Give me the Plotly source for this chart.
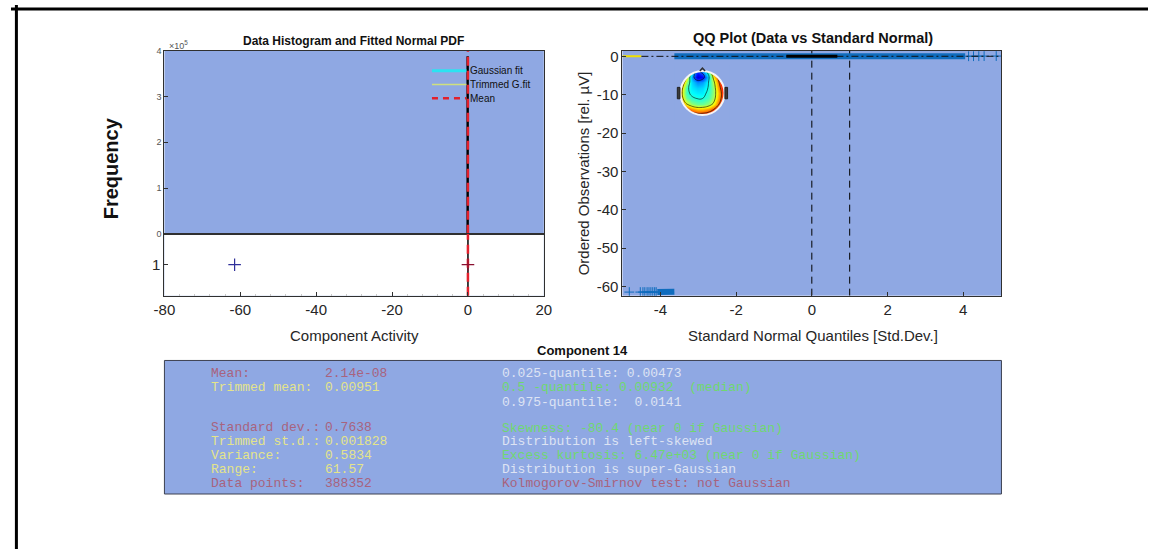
import plotly.graph_objects as go
import math

W, H = 1156, 554
def px(x): return x / W
def py(y): return 1 - y / H

# ---------------- data ----------------
hist_x = [0.0]
hist_counts = [388000]
stat_mean = 2.14e-08
stat_median = 0.00932
box_row = [1]
outlier_x = [-61.5]
hist_xticks = [-80, -60, -40, -20, 0, 20]
hist_yticks = [0, 1e5, 2e5, 3e5, 4e5]
hist_yticklabels = ["0", "1", "2", "3", "4"]

qq_band_x = [-3.63, 4.05]
qq_band_y = [0.0047, 0.0141]
qq_low_sparse_x = [-4.82, -4.53, -4.46, -4.41, -4.35, -4.30, -4.25, -4.20, -4.15, -4.11]
qq_low_sparse_y = [-61.5, -61.5, -61.5, -61.5, -61.5, -61.5, -61.5, -61.5, -61.5, -61.5]
qq_low_dense_x = [-4.08, -3.63]
qq_low_dense_y = [-61.5, -61.4]
qq_high_x = [4.14, 4.27, 4.41, 4.55, 4.87]
qq_high_y = [0.03, 0.04, 0.05, 0.06, 0.07]
qq_ref_x = [-4.5, 5.0]
qq_ref_y = [0.0, 0.02]
qq_quart_x = [-0.674, 0.674]
qq_quart_y = [0.007, 0.012]
qq_yellow_x = [-5.0, -4.5]
qq_yellow_y = [0.0, 0.0]
qq_vlines = [0, 1]
qq_xticks = [-4, -2, 0, 2, 4]
qq_yticks = [0, -10, -20, -30, -40, -50, -60]

# scalp map values (jet scale 0..1), rows bottom -> top
topo_coords = [-1.0, -0.75, -0.5, -0.25, 0.0, 0.25, 0.5, 0.75, 1.0]
topo_z = [
    [0.90, 0.90, 0.88, 0.86, 0.86, 0.88, 0.90, 0.92, 0.95],
    [0.86, 0.82, 0.74, 0.68, 0.68, 0.72, 0.80, 0.88, 0.93],
    [0.80, 0.62, 0.52, 0.48, 0.48, 0.52, 0.62, 0.80, 0.92],
    [0.72, 0.48, 0.42, 0.40, 0.40, 0.44, 0.54, 0.74, 0.90],
    [0.68, 0.44, 0.38, 0.36, 0.36, 0.42, 0.52, 0.72, 0.90],
    [0.72, 0.44, 0.36, 0.33, 0.34, 0.40, 0.52, 0.76, 0.92],
    [0.80, 0.54, 0.34, 0.26, 0.28, 0.38, 0.56, 0.80, 0.94],
    [0.86, 0.66, 0.30, 0.08, 0.12, 0.34, 0.64, 0.86, 0.95],
    [0.90, 0.76, 0.40, 0.18, 0.26, 0.46, 0.76, 0.92, 0.95],
]
matlab_jet = [[0.0, "rgb(0,0,128)"], [0.125, "rgb(0,0,255)"], [0.375, "rgb(0,255,255)"],
              [0.625, "rgb(255,255,0)"], [0.875, "rgb(255,0,0)"], [1.0, "rgb(128,0,0)"]]

# statistics text
left_labels = ["Mean:", "Trimmed mean:", "Standard dev.:", "Trimmed st.d.:", "Variance:", "Range:", "Data points:"]
left_values = ["2.14e-08", "0.00951", "0.7638", "0.001828", "0.5834", "61.57", "388352"]
left_rows = [375, 390, 430, 445, 459, 473, 487]
left_colors = ["#a8637e", "#e4e48a", "#a8637e", "#e4e48a", "#e4e48a", "#e4e48a", "#a8637e"]
right_lines = ["0.025-quantile: 0.00473",
               "0.5 -quantile: 0.00932  (median)",
               "0.975-quantile:  0.0141",
               "Skewness: -80.4 (near 0 if Gaussian)",
               "Distribution is left-skewed",
               "Excess kurtosis: 6.47e+03 (near 0 if Gaussian)",
               "Distribution is super-Gaussian",
               "Kolmogorov-Smirnov test: not Gaussian"]
right_rows = [375, 390, 405, 431, 445, 459, 473, 487]
right_colors = ["#dde3f3", "#6fd86f", "#dde3f3", "#6fd86f", "#dde3f3", "#6fd86f", "#dde3f3", "#a8637e"]

BG = "#8fa8e3"
AX = "#303030"
TXT = "#262626"
QQBLUE = "#0f6cbd"

fig = go.Figure()

# histogram
fig.add_trace(go.Bar(x=hist_x, y=hist_counts, width=0.5, marker=dict(color="black", line=dict(width=0)),
                     xaxis="x", yaxis="y", showlegend=False))
fig.add_trace(go.Scatter(x=[stat_mean, stat_mean], y=[0, 4e5], mode="lines",
                         line=dict(color="#e3202c", width=2.5, dash="9px,5px"),
                         xaxis="x", yaxis="y", showlegend=False))
# boxplot row
fig.add_trace(go.Scatter(x=[stat_median, stat_median], y=[0.5, 1.5], mode="lines",
                         line=dict(color="black", width=1.5), xaxis="x2", yaxis="y2", showlegend=False))
fig.add_trace(go.Scatter(x=[stat_mean, stat_mean], y=[0.5, 1.5], mode="lines",
                         line=dict(color="#e3202c", width=2.5, dash="9px,5px"),
                         xaxis="x2", yaxis="y2", showlegend=False))
fig.add_trace(go.Scatter(x=outlier_x, y=box_row, mode="markers",
                         marker=dict(symbol="cross-thin-open", size=9, color="#30309a", line=dict(width=1.2)),
                         xaxis="x2", yaxis="y2", showlegend=False))
fig.add_trace(go.Scatter(x=[stat_median], y=box_row, mode="markers",
                         marker=dict(symbol="cross-thin-open", size=9, color="#8a1030", line=dict(width=1.2)),
                         xaxis="x2", yaxis="y2", showlegend=False))

# QQ plot
for xv in qq_vlines:
    fig.add_trace(go.Scatter(x=[xv, xv], y=[-62.43, 1.43], mode="lines",
                             line=dict(color="black", width=1, dash="7px,5px"),
                             xaxis="x3", yaxis="y3", showlegend=False))
fig.add_trace(go.Scatter(x=qq_yellow_x, y=qq_yellow_y, mode="lines",
                         line=dict(color="#f0e000", width=2), xaxis="x3", yaxis="y3", showlegend=False))
fig.add_trace(go.Scatter(x=qq_band_x, y=qq_band_y, mode="lines",
                         line=dict(color=QQBLUE, width=6), xaxis="x3", yaxis="y3", showlegend=False))
fig.add_trace(go.Scatter(x=qq_low_dense_x, y=qq_low_dense_y, mode="lines",
                         line=dict(color=QQBLUE, width=6), xaxis="x3", yaxis="y3", showlegend=False))
fig.add_trace(go.Scatter(x=qq_low_sparse_x, y=qq_low_sparse_y, mode="markers",
                         marker=dict(symbol="cross-thin-open", size=7, color=QQBLUE, line=dict(width=1)),
                         xaxis="x3", yaxis="y3", showlegend=False))
fig.add_trace(go.Scatter(x=qq_high_x, y=qq_high_y, mode="markers",
                         marker=dict(symbol="cross-thin-open", size=7, color=QQBLUE, line=dict(width=1)),
                         xaxis="x3", yaxis="y3", showlegend=False))
fig.add_trace(go.Scatter(x=qq_ref_x, y=qq_ref_y, mode="lines",
                         line=dict(color="#101010", width=1, dash="7px,3px,2px,3px"),
                         xaxis="x3", yaxis="y3", showlegend=False))
fig.add_trace(go.Scatter(x=qq_quart_x, y=qq_quart_y, mode="lines",
                         line=dict(color="black", width=3), xaxis="x3", yaxis="y3", showlegend=False))

# scalp map inset
fig.add_trace(go.Contour(x=topo_coords, y=topo_coords, z=topo_z, zmin=0, zmax=1, zauto=False,
                         colorscale=matlab_jet, showscale=False, ncontours=9,
                         contours=dict(coloring="heatmap"), line=dict(color="black", width=0.6, smoothing=1.3),
                         xaxis="x4", yaxis="y4", hoverinfo="skip"))

axis_common = dict(showgrid=False, zeroline=False, showline=True, linecolor=AX, linewidth=1, mirror=True)

xdom = [px(156), px(541.7)]
qxdom = [px(621.7), px(1006.7)]

fig.update_layout(
    width=W, height=H, autosize=False,
    margin=dict(l=0, r=0, t=0, b=0),
    paper_bgcolor="white", plot_bgcolor=BG,
    font=dict(family="Liberation Sans, Arial, sans-serif", color=TXT),
    showlegend=False,
    xaxis=dict(domain=xdom, anchor="y", range=[-80, 20], showticklabels=False, ticks="", **axis_common),
    yaxis=dict(domain=[py(233), py(46.7)], anchor="x", range=[0, 4e5],
               tickvals=hist_yticks, ticktext=hist_yticklabels,
               ticks="inside", ticklen=4, tickcolor=AX, tickfont=dict(size=9, color="#555555"), **axis_common),
    xaxis2=dict(domain=xdom, anchor="y2", range=[-80, 20], tickvals=hist_xticks,
                ticktext=[str(v) for v in hist_xticks],
                ticks="inside", ticklen=4, tickcolor=AX, tickfont=dict(size=15, color=TXT),
                minor=dict(dtick=4, ticks="inside", ticklen=2, tickcolor="#c8c8c8"),
                **axis_common),
    yaxis2=dict(domain=[py(296), py(233)], anchor="x2", range=[0.5, 1.5], tickvals=box_row, ticktext=["1"],
                ticks="inside", ticklen=4, tickcolor=AX, tickfont=dict(size=15, color=TXT), **axis_common),
    xaxis3=dict(domain=qxdom, anchor="y3", range=[-5, 5], tickvals=qq_xticks,
                ticktext=[str(v) for v in qq_xticks],
                ticks="inside", ticklen=4, tickcolor=AX, tickfont=dict(size=15, color=TXT), **axis_common),
    yaxis3=dict(domain=[py(296), py(46.7)], anchor="x3", range=[-62.43, 1.43],
                tickvals=qq_yticks, ticktext=[str(v) for v in qq_yticks],
                ticks="inside", ticklen=4, tickcolor=AX, tickfont=dict(size=15, color=TXT), **axis_common),
    xaxis4=dict(domain=[px(675), px(731)], anchor="y4", range=[-1.25, 1.25], visible=False),
    yaxis4=dict(domain=[py(117.7), py(61.7)], anchor="x4", range=[-1.25, 1.25], visible=False),
)

shapes = []
# white background for boxplot row
shapes.append(dict(type="rect", xref="x2 domain", yref="y2 domain", x0=0, x1=1, y0=0, y1=1,
                   fillcolor="white", line=dict(width=0), layer="below"))
# statistics panel
shapes.append(dict(type="rect", xref="paper", yref="paper", x0=px(156), x1=px(1007), y0=py(498), y1=py(362),
                   fillcolor=BG, line=dict(color="#3c4050", width=1), layer="below"))
# outer frame (top and left)
shapes.append(dict(type="line", xref="paper", yref="paper", x0=0, x1=1, y0=py(4), y1=py(4),
                   line=dict(color="black", width=3)))
shapes.append(dict(type="line", xref="paper", yref="paper", x0=px(5.5), x1=px(5.5), y0=0, y1=1,
                   line=dict(color="black", width=3)))
# legend samples
lg = [(67, "#2be3f2", 3, "solid"), (81, "#cfe07e", 1.5, "solid"), (95, "#e3202c", 2.5, "6px,5px")]
for yy, col, wd, ds in lg:
    shapes.append(dict(type="line", xref="paper", yref="paper", x0=px(428), x1=px(463), y0=py(yy), y1=py(yy),
                       line=dict(color=col, width=wd, dash=ds)))

# scalp-map mask (square minus circle)
R = 1.0
pts = []
for k in range(73):
    a = 2 * math.pi * k / 72
    pts.append((R * math.cos(a), -R * math.sin(a)))
circ = "M " + " L ".join(f"{x:.4f},{y:.4f}" for x, y in pts) + " Z"
sq = "M -1.4,-1.4 L -1.4,1.4 L 1.4,1.4 L 1.4,-1.4 Z"
shapes.append(dict(type="path", xref="x4", yref="y4", path=sq + " " + circ, fillcolor=BG,
                   line=dict(width=0), layer="above"))
shapes.append(dict(type="circle", xref="x4", yref="y4", x0=-1.0, x1=1.0, y0=-1.0, y1=1.0,
                   line=dict(color="#f4f4f4", width=2), layer="above"))
for sgn in (-1, 1):
    x0, x1 = sorted([sgn * 1.02, sgn * 1.14])
    shapes.append(dict(type="rect", xref="x4", yref="y4", x0=x0, x1=x1, y0=-0.26, y1=0.26,
                       fillcolor="#3a3a3a", line=dict(color="#222222", width=1), layer="above"))
shapes.append(dict(type="path", xref="x4", yref="y4", path="M -0.12,1.0 L 0,1.13 L 0.12,1.0",
                   line=dict(color="#333333", width=1.5), layer="above"))
fig.update_layout(shapes=shapes)

ann = []
def A(x, y, text, size, color=TXT, bold=False, xanchor="center", family=None, angle=0):
    d = dict(xref="paper", yref="paper", x=px(x), y=py(y), text=f"<b>{text}</b>" if bold else text,
             showarrow=False, xanchor=xanchor, yanchor="middle", textangle=angle,
             font=dict(size=size, color=color))
    if family:
        d["font"]["family"] = family
    ann.append(d)

A(348, 37, "Data Histogram and Fitted Normal PDF", 12, color="#111111", bold=True)
A(159, 41, "×10<sup>5</sup>", 9, color="#555555", xanchor="left")
A(102, 166, "Frequency", 20, color="#111111", bold=True, angle=-90)
A(349, 337, "Component Activity", 15)
A(815, 34, "QQ Plot (Data vs Standard Normal)", 14.5, color="#111111", bold=True)
A(815, 337, "Standard Normal Quantiles [Std.Dev.]", 15)
A(582, 171, "Ordered Observations [rel. µV]", 15, angle=-90)
A(581, 352, "Component 14", 13, color="#111111", bold=True)
for yy, t in zip([67, 81, 95], ["Gaussian fit", "Trimmed G.fit", "Mean"]):
    A(465, yy, t, 10, color="#111111", xanchor="left")

mono = "Liberation Mono, Courier New, monospace"
for lab, val, yy, col in zip(left_labels, left_values, left_rows, left_colors):
    A(201, yy, lab, 13, color=col, xanchor="left", family=mono)
    A(317, yy, val, 13, color=col, xanchor="left", family=mono)
for t, yy, col in zip(right_lines, right_rows, right_colors):
    A(497, yy, t.replace(" ", "\u00a0"), 13, color=col, xanchor="left", family=mono)

fig.update_layout(annotations=ann)
fig.write_html("out.html")
